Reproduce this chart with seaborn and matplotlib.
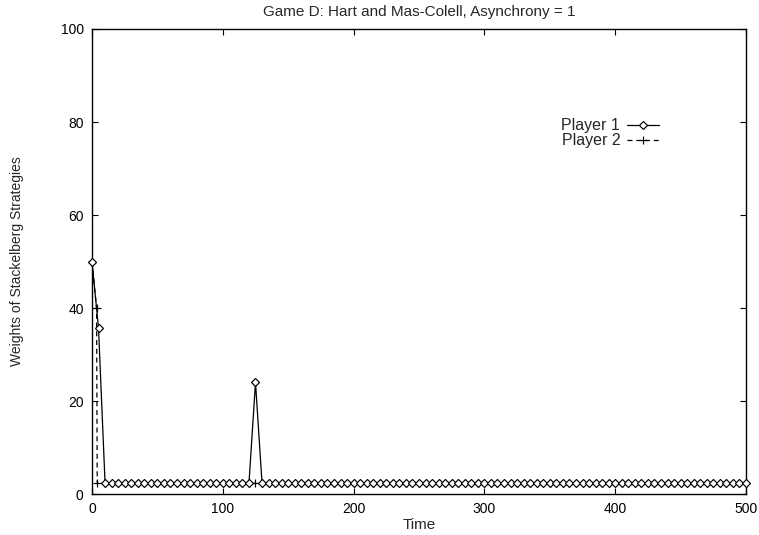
import numpy as np
import pandas as pd
import matplotlib
matplotlib.use("Agg")
import matplotlib.pyplot as plt
import seaborn as sns

# Sampling times (every 5 steps for player 1; player 2 has an early extra sample)
p1_time = np.arange(0, 505, 5)
p1_weight = [
    50.0, 35.6, 2.3, 2.3, 2.3, 2.3, 2.3, 2.3, 2.3, 2.3,
    2.3, 2.3, 2.3, 2.3, 2.3, 2.3, 2.3, 2.3, 2.3, 2.3,
    2.3, 2.3, 2.3, 2.3, 2.3, 24.0, 2.3, 2.3, 2.3, 2.3,
    2.3, 2.3, 2.3, 2.3, 2.3, 2.3, 2.3, 2.3, 2.3, 2.3,
    2.3, 2.3, 2.3, 2.3, 2.3, 2.3, 2.3, 2.3, 2.3, 2.3,
    2.3, 2.3, 2.3, 2.3, 2.3, 2.3, 2.3, 2.3, 2.3, 2.3,
    2.3, 2.3, 2.3, 2.3, 2.3, 2.3, 2.3, 2.3, 2.3, 2.3,
    2.3, 2.3, 2.3, 2.3, 2.3, 2.3, 2.3, 2.3, 2.3, 2.3,
    2.3, 2.3, 2.3, 2.3, 2.3, 2.3, 2.3, 2.3, 2.3, 2.3,
    2.3, 2.3, 2.3, 2.3, 2.3, 2.3, 2.3, 2.3, 2.3, 2.3,
    2.3,
]

p2_time = np.concatenate([[0, 3.5, 4], np.arange(10, 505, 5)])
p2_weight = [
    50.0, 40.0, 2.3,
    2.3, 2.3, 2.3, 2.3, 2.3, 2.3, 2.3, 2.3, 2.3, 2.3,
    2.3, 2.3, 2.3, 2.3, 2.3, 2.3, 2.3, 2.3, 2.3, 2.3,
    2.3, 2.3, 2.3, 2.3, 2.3, 2.3, 2.3, 2.3, 2.3, 2.3,
    2.3, 2.3, 2.3, 2.3, 2.3, 2.3, 2.3, 2.3, 2.3, 2.3,
    2.3, 2.3, 2.3, 2.3, 2.3, 2.3, 2.3, 2.3, 2.3, 2.3,
    2.3, 2.3, 2.3, 2.3, 2.3, 2.3, 2.3, 2.3, 2.3, 2.3,
    2.3, 2.3, 2.3, 2.3, 2.3, 2.3, 2.3, 2.3, 2.3, 2.3,
    2.3, 2.3, 2.3, 2.3, 2.3, 2.3, 2.3, 2.3, 2.3, 2.3,
    2.3, 2.3, 2.3, 2.3, 2.3, 2.3, 2.3, 2.3, 2.3, 2.3,
    2.3, 2.3, 2.3, 2.3, 2.3, 2.3, 2.3, 2.3, 2.3,
]

x_ticks = [0, 100, 200, 300, 400, 500]
y_ticks = [0, 20, 40, 60, 80, 100]

sns.set_theme(style="ticks")
plt.rcParams.update({
    "font.family": ["Liberation Sans", "DejaVu Sans"],
    "xtick.direction": "in",
    "ytick.direction": "in",
    "xtick.top": True,
    "ytick.right": True,
    "xtick.major.size": 4.5,
    "ytick.major.size": 4.5,
    "xtick.major.width": 0.8,
    "ytick.major.width": 0.8,
    "axes.linewidth": 1.0,
    "axes.edgecolor": "black",
})

df1 = pd.DataFrame({"Time": p1_time, "Weight": p1_weight})
df2 = pd.DataFrame({"Time": p2_time, "Weight": p2_weight})

fig, ax = plt.subplots(figsize=(7.59, 5.35), dpi=100)
fig.subplots_adjust(left=0.1212, right=0.9829, top=0.9458, bottom=0.0766)

sns.lineplot(data=df1, x="Time", y="Weight", ax=ax, color="black",
             linewidth=0.9, marker="D", markersize=3.8,
             markerfacecolor="white", markeredgecolor="black",
             markeredgewidth=0.85, label="Player 1", clip_on=False, zorder=3)
sns.lineplot(data=df2, x="Time", y="Weight", ax=ax, color="black",
             linewidth=0.9, linestyle=(0, (4, 3)), marker="+",
             markersize=5.5, markeredgecolor="black", markeredgewidth=0.85,
             label="Player 2", clip_on=False, zorder=2)

ax.set_xlim(0, 500)
ax.set_ylim(0, 100)
ax.set_xticks(x_ticks)
ax.set_yticks(y_ticks)
ax.tick_params(labelsize=10, colors="black", pad=6)
for s in ax.spines.values():
    s.set_visible(True)
    s.set_zorder(1)

ax.set_title("Game D: Hart and Mas-Colell, Asynchrony = 1", fontsize=11, pad=9)
ax.set_xlabel("Time", fontsize=11, labelpad=1)
ax.set_ylabel("Weights of Stackelberg Strategies", fontsize=10, labelpad=26)

ax.legend(loc="upper right", bbox_to_anchor=(0.876, 0.822), markerfirst=False,
          frameon=False, fontsize=11.5, handlelength=2.0, handletextpad=0.4,
          labelspacing=0.0, borderaxespad=0)

fig.savefig("out.png", dpi=100)
